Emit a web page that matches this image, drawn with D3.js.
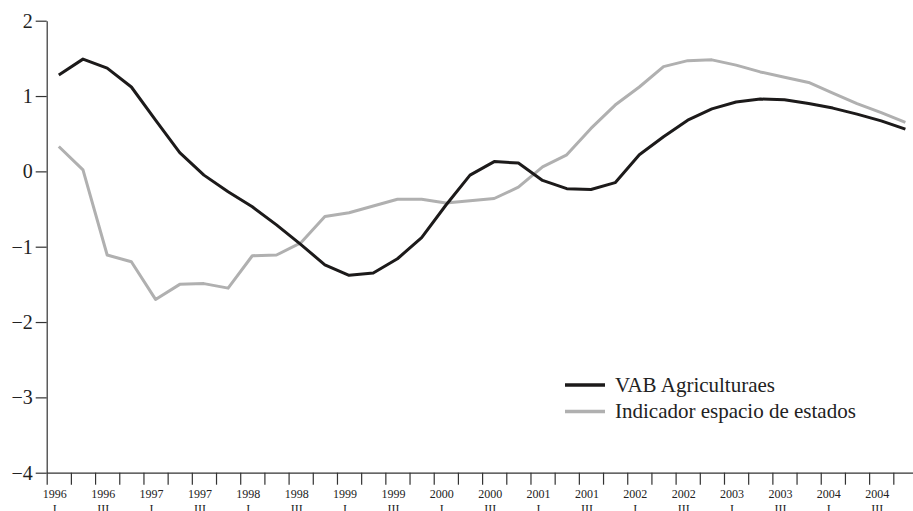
<!DOCTYPE html>
<html>
<head>
<meta charset="utf-8">
<script src="https://cdn.jsdelivr.net/npm/d3@7"></script>
<style>
  body { margin: 0; background: #fff; }
  svg text { font-family: "Liberation Serif", "Times New Roman", serif; fill: #222; }
</style>
</head>
<body>
<svg id="chart"></svg>
<script>
// quarterly values, 1996 I .. 2004 IV
const vab = [1.28, 1.49, 1.37, 1.12, 0.68, 0.25, -0.05, -0.27, -0.47, -0.71, -0.97, -1.24,
             -1.38, -1.35, -1.16, -0.88, -0.45, -0.05, 0.13, 0.11, -0.12, -0.23, -0.24, -0.15,
             0.22, 0.46, 0.68, 0.83, 0.92, 0.96, 0.95, 0.90, 0.84, 0.76, 0.67, 0.56];
const indicador = [0.33, 0.02, -1.11, -1.20, -1.70, -1.50, -1.49, -1.55, -1.12, -1.11, -0.95, -0.60,
                   -0.55, -0.46, -0.37, -0.37, -0.42, -0.39, -0.36, -0.21, 0.06, 0.22, 0.57, 0.88,
                   1.12, 1.39, 1.47, 1.48, 1.41, 1.32, 1.25, 1.18, 1.04, 0.90, 0.78, 0.65];

// labels every second quarter
const tickYears = ["1996", "1996", "1997", "1997", "1998", "1998", "1999", "1999", "2000",
                   "2000", "2001", "2001", "2002", "2002", "2003", "2003", "2004", "2004"];
const tickQuarters = ["I", "III", "I", "III", "I", "III", "I", "III", "I",
                      "III", "I", "III", "I", "III", "I", "III", "I", "III"];
const yTicks = [-4, -3, -2, -1, 0, 1, 2];

const seriesNames = ["VAB Agriculturaes", "Indicador espacio de estados"];
const seriesColors = ["#1c1a1a", "#b0b0b0"];

const width = 913, height = 511;
const svg = d3.select("#chart").attr("width", width).attr("height", height);

const x = d3.scaleLinear().domain([0, vab.length]).range([46.7, 917.5]);
const y = d3.scaleLinear().domain([-4, 2]).range([472.7, 20.7]);

// y axis
const yAxis = svg.append("g")
    .attr("transform", `translate(${x(0)},0)`)
    .call(d3.axisLeft(y).tickValues(yTicks).tickFormat(d3.format("d"))
        .tickSize(11).tickSizeOuter(0).tickPadding(3));
yAxis.selectAll("text").style("font-size", "20px");

// x axis, ticks at quarter boundaries
const xAxis = svg.append("g")
    .attr("transform", `translate(0,${y(-4)})`)
    .call(d3.axisBottom(x).tickValues(d3.range(vab.length)).tickFormat("").tickSize(12).tickSizeOuter(0));

svg.selectAll("path.domain, .tick line").attr("stroke", "#333").attr("stroke-width", 1.2);

// x labels (second row is cut by the bottom edge, as in the source)
const labels = svg.append("g");
tickYears.forEach((yr, k) => {
    const cx = x(k * 2 + 0.5) - 4;
    labels.append("text").attr("x", cx).attr("y", 498)
        .attr("text-anchor", "middle").style("font-size", "12px").text(yr);
    labels.append("text").attr("x", cx).attr("y", 513)
        .attr("text-anchor", "middle").style("font-size", "12px").text(tickQuarters[k]);
});

// lines
const line = d3.line()
    .x((d, i) => x(i + 0.5))
    .y(d => y(d));

[indicador, vab].forEach((s, j) => {
    svg.append("path")
        .datum(s)
        .attr("fill", "none")
        .attr("stroke", seriesColors[1 - j])
        .attr("stroke-width", 3)
        .attr("stroke-linejoin", "round")
        .attr("d", line);
});

// legend
const legend = svg.append("g").attr("transform", "translate(565,385)");
seriesNames.forEach((name, i) => {
    const g = legend.append("g").attr("transform", `translate(0,${i * 26.5})`);
    g.append("line").attr("x1", 0).attr("x2", 40).attr("y1", 0).attr("y2", 0)
        .attr("stroke", seriesColors[i]).attr("stroke-width", 3.5);
    g.append("text").attr("x", 50).attr("y", 6.5).style("font-size", "21px").text(name);
});
</script>
</body>
</html>
